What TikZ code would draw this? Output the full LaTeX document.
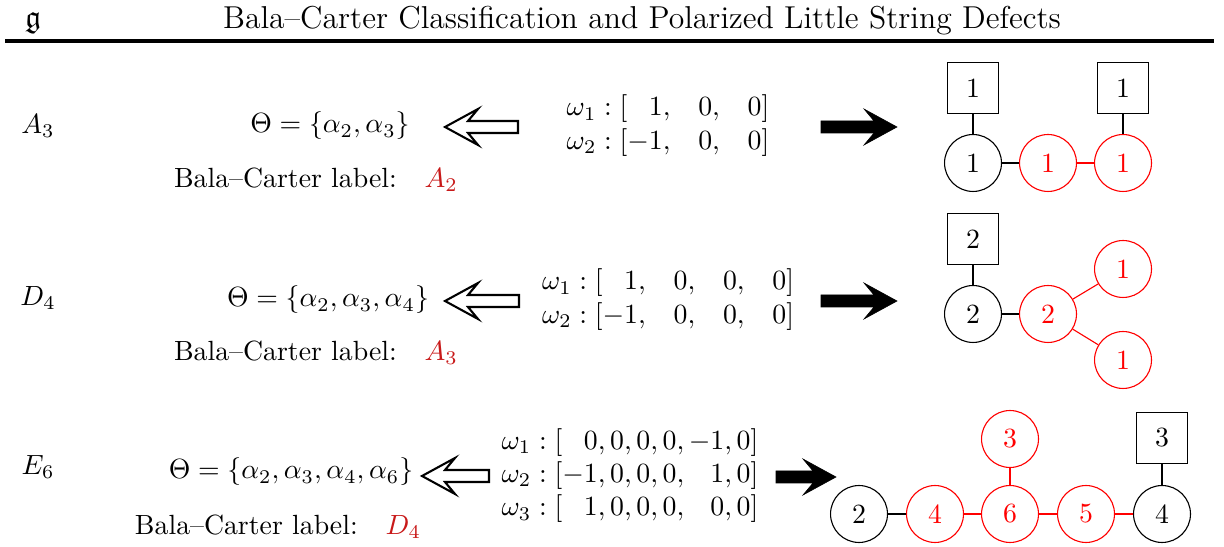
\documentclass[tikz,border=0pt]{standalone}
\usepackage{amssymb}
\definecolor{bcred}{RGB}{200,25,25}
\tikzset{
 cnode/.style={circle, draw=black, minimum size=20.5pt, inner sep=0pt},
 rnode/.style={circle, draw=red, text=red, minimum size=20.5pt, inner sep=0pt},
 fbox/.style={rectangle, draw=black, minimum size=18.4pt, inner sep=0pt},
 bedge/.style={draw=black, line width=0.4pt},
 redge/.style={draw=red, line width=0.4pt},
 hollowarr/.style={draw=black, fill=white, line width=0.75pt, line join=miter},
 solidarr/.style={draw=black, fill=black, line width=0.2pt, line join=miter},
 txt/.style={inner sep=0pt},
 headtxt/.style={inner sep=0pt, anchor=base, font=\fontsize{11.4}{13}\selectfont},
 rule/.style={line width=1.4pt},
}
% #1 style, #2 tip x, #3 length, #4 y, #5 direction (1 = points left, -1 = points right)
\newcommand{\fatarrow}[5]{%
 \draw[#1, shift={(#2,#4)}, xscale=#5] (0,0) -- (33,-18) -- (23,-6) -- (#3,-6) -- (#3,6) -- (23,6) -- (33,18) -- cycle;}
\begin{document}
\begin{tikzpicture}[x=0.36pt, y=-0.36pt]
\useasboundingbox (0,0) rectangle (1224,547);
% header
\node[headtxt] (g) at (33,28) {$\mathfrak{g}$};
\node[headtxt] (title) at (642,28.5) {Bala--Carter Classification and Polarized Little String Defects};
\coordinate (ruleL) at (5,41);
\coordinate (ruleR) at (1214,41);
\draw[rule] (ruleL) -- (ruleR);

% ---------------- A3 ----------------
\node[txt] (A3) at (38,126) {$A_3$};
\node[txt] (thA) at (330,126) {$\Theta=\{\alpha_2,\alpha_3\}$};
\node[txt] (bcA) at (316,180) {Bala--Carter label:\quad\textcolor{bcred}{$A_2$}};
\node[txt] (mA) at (668,126) {$\begin{array}{@{}l@{}l@{}r@{\quad}r@{\quad}r@{}}
\omega_1 :{} & [ & 1, & 0, & 0]\\
\omega_2 :{} & [ & -1, & 0, & 0]
\end{array}$};
\fatarrow{hollowarr}{445}{73}{127}{1}
\fatarrow{solidarr}{897}{76}{127}{-1}
\node[fbox] (a3s1) at (973,88) {1};
\node[fbox] (a3s2) at (1123,88) {1};
\node[cnode] (a3n1) at (973,163) {1};
\node[rnode] (a3n2) at (1048,163) {1};
\node[rnode] (a3n3) at (1123,163) {1};
\draw[bedge] (a3s1) -- (a3n1);
\draw[bedge] (a3s2) -- (a3n3);
\draw[bedge] (a3n1) -- (a3n2);
\draw[redge] (a3n2) -- (a3n3);

% ---------------- D4 ----------------
\node[txt] (D4) at (38,298) {$D_4$};
\node[txt] (thD) at (328,300) {$\Theta=\{\alpha_2,\alpha_3,\alpha_4\}$};
\node[txt] (bcD) at (316,353) {Bala--Carter label:\quad\textcolor{bcred}{$A_3$}};
\node[txt] (mD) at (668,300) {$\begin{array}{@{}l@{}l@{}r@{\quad}r@{\quad}r@{\quad}r@{}}
\omega_1 :{} & [ & 1, & 0, & 0, & 0]\\
\omega_2 :{} & [ & -1, & 0, & 0, & 0]
\end{array}$};
\fatarrow{hollowarr}{445}{74}{301}{1}
\fatarrow{solidarr}{897}{76}{301}{-1}
\node[fbox] (d4s1) at (973,239) {2};
\node[cnode] (d4n1) at (973,314) {2};
\node[rnode] (d4n2) at (1048,314) {2};
\node[rnode] (d4n3) at (1123,269) {1};
\node[rnode] (d4n4) at (1123,360) {1};
\draw[bedge] (d4s1) -- (d4n1);
\draw[bedge] (d4n1) -- (d4n2);
\draw[redge] (d4n2) -- (d4n3);
\draw[redge] (d4n2) -- (d4n4);

% ---------------- E6 ----------------
\node[txt] (E6) at (38,467) {$E_6$};
\node[txt] (thE) at (291,472) {$\Theta=\{\alpha_2,\alpha_3,\alpha_4,\alpha_6\}$};
\node[txt] (bcE) at (278,527) {Bala--Carter label:\quad\textcolor{bcred}{$D_4$}};
\node[txt] (mE) at (630,476) {$\begin{array}{@{}l@{}l@{}r@{}l@{}r@{}l@{}}
\omega_1 :{} & [ & 0,{} & 0,0,0,{} & -1,{} & 0]\\
\omega_2 :{} & [ & -1,{} & 0,0,0,{} & 1,{} & 0]\\
\omega_3 :{} & [ & 1,{} & 0,0,0,{} & 0,{} & 0]
\end{array}$};
\fatarrow{hollowarr}{422}{67}{476}{1}
\fatarrow{solidarr}{836}{60}{477}{-1}
\node[cnode] (e6n1) at (859,514) {2};
\node[rnode] (e6n2) at (935,514) {4};
\node[rnode] (e6n3) at (1010,514) {6};
\node[rnode] (e6n4) at (1086,514) {5};
\node[cnode] (e6n5) at (1162,514) {4};
\node[rnode] (e6t) at (1010,439) {3};
\node[fbox] (e6s) at (1162,438) {3};
\draw[bedge] (e6n1) -- (e6n2);
\draw[redge] (e6n2) -- (e6n3);
\draw[redge] (e6n3) -- (e6n4);
\draw[redge] (e6n4) -- (e6n5);
\draw[redge] (e6n3) -- (e6t);
\draw[bedge] (e6s) -- (e6n5);
\end{tikzpicture}
\end{document}
